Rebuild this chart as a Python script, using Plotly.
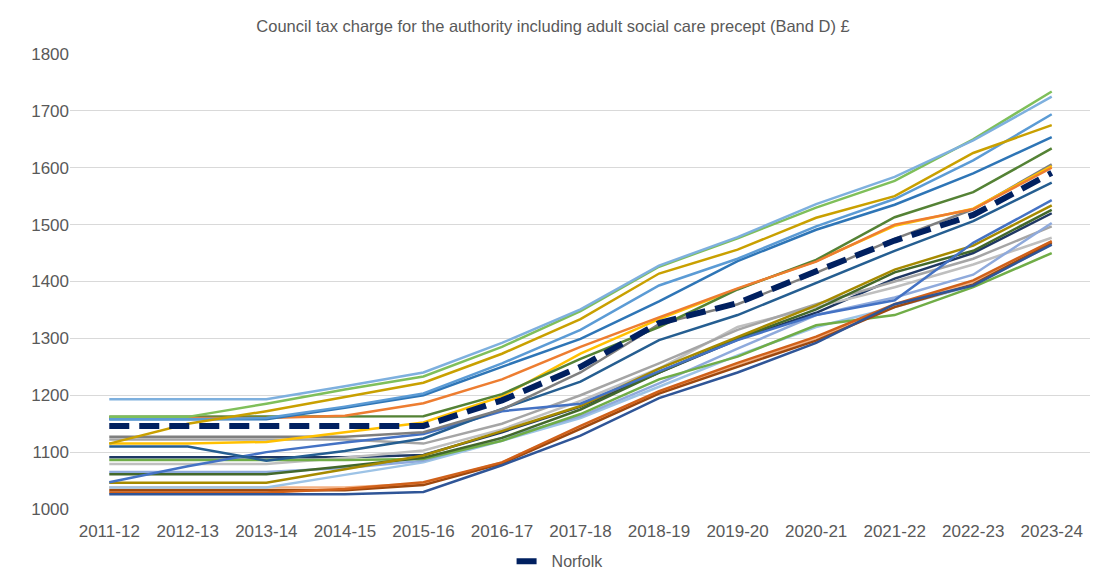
import plotly.graph_objects as go

years = ["2011-12", "2012-13", "2013-14", "2014-15", "2015-16", "2016-17", "2017-18",
         "2018-19", "2019-20", "2020-21", "2021-22", "2022-23", "2023-24"]

# Other authorities (unnamed in the legend)
light_blue_top = [1193, 1193, 1193, 1216, 1240, 1292, 1351, 1428, 1478, 1536, 1584, 1648, 1725]
green_top      = [1162, 1162, 1185, 1210, 1233, 1285, 1348, 1426, 1476, 1530, 1577, 1650, 1734]
gold           = [1115, 1150, 1172, 1197, 1222, 1273, 1334, 1414, 1456, 1512, 1550, 1626, 1675]
blue_a         = [1158, 1158, 1160, 1180, 1203, 1256, 1315, 1393, 1440, 1497, 1545, 1613, 1694]
blue_b         = [1158, 1158, 1158, 1178, 1200, 1250, 1299, 1365, 1436, 1491, 1535, 1590, 1654]
orange         = [1160, 1160, 1160, 1164, 1186, 1228, 1285, 1337, 1388, 1435, 1500, 1527, 1600]
dark_green     = [1162, 1162, 1162, 1162, 1163, 1202, 1264, 1320, 1386, 1438, 1513, 1557, 1634]
yellow         = [1115, 1115, 1118, 1135, 1152, 1198, 1273, 1334, 1387, 1436, 1498, 1528, 1603]
dark_gray      = [1127, 1127, 1127, 1127, 1135, 1175, 1240, 1325, 1360, 1415, 1475, 1527, 1606]
teal           = [1110, 1110, 1085, 1102, 1124, 1176, 1224, 1297, 1341, 1398, 1454, 1506, 1574]
gray           = [1122, 1122, 1122, 1122, 1115, 1150, 1200, 1256, 1315, 1360, 1400, 1440, 1497]
light_gray     = [1079, 1079, 1079, 1090, 1103, 1140, 1190, 1247, 1320, 1355, 1390, 1430, 1477]
olive          = [1046, 1046, 1046, 1070, 1094, 1137, 1181, 1247, 1303, 1358, 1421, 1463, 1534]
dark_green2    = [1061, 1061, 1061, 1075, 1090, 1125, 1175, 1240, 1300, 1351, 1416, 1454, 1526]
blue_rise      = [1047, 1075, 1100, 1117, 1132, 1172, 1185, 1242, 1297, 1341, 1367, 1468, 1543]
light_blue2    = [1065, 1065, 1065, 1072, 1085, 1125, 1163, 1221, 1282, 1341, 1372, 1412, 1503]
light_blue3    = [1038, 1038, 1038, 1060, 1082, 1120, 1160, 1215, 1270, 1320, 1355, 1393, 1465]
green_low      = [1086, 1086, 1086, 1086, 1088, 1120, 1167, 1228, 1268, 1323, 1341, 1390, 1450]
navy_mid       = [1091, 1091, 1091, 1091, 1095, 1135, 1180, 1240, 1298, 1345, 1405, 1450, 1520]
light_orange   = [1038, 1038, 1038, 1038, 1045, 1082, 1144, 1205, 1254, 1300, 1358, 1400, 1470]
orange_dark    = [1029, 1029, 1029, 1035, 1047, 1082, 1146, 1207, 1257, 1303, 1360, 1402, 1471]
brown          = [1033, 1033, 1033, 1033, 1042, 1080, 1141, 1203, 1250, 1296, 1355, 1395, 1468]
navy_blue      = [1026, 1026, 1026, 1026, 1030, 1077, 1129, 1195, 1240, 1292, 1360, 1393, 1465]

norfolk = [1146, 1146, 1146, 1146, 1146, 1191, 1250, 1327, 1362, 1418, 1472, 1517, 1591]

others = [
    (light_orange, "#F4B183"),
    (navy_mid, "#1F3864"),
    (light_gray, "#BFBFBF"),
    (gray, "#A5A5A5"),
    (light_blue3, "#9DC3E6"),
    (light_blue2, "#8FAADC"),
    (green_low, "#70AD47"),
    (dark_green2, "#43682B"),
    (olive, "#A68A00"),
    (blue_rise, "#4472C4"),
    (brown, "#9E480E"),
    (orange_dark, "#D0611A"),
    (navy_blue, "#2F5597"),
    (teal, "#255E91"),
    (dark_gray, "#7F7F7F"),
    (yellow, "#FFC000"),
    (dark_green, "#548235"),
    (orange, "#ED7D31"),
    (blue_b, "#2E75B6"),
    (blue_a, "#5B9BD5"),
    (gold, "#C9A000"),
    (green_top, "#7FBF5A"),
    (light_blue_top, "#7EB0DE"),
]

fig = go.Figure()
for vals, col in others:
    fig.add_trace(go.Scatter(x=years, y=vals, mode="lines", showlegend=False,
                             line=dict(color=col, width=2.5), hoverinfo="skip"))

fig.add_trace(go.Scatter(x=years, y=norfolk, mode="lines", name="Norfolk",
                         line=dict(color="#002060", width=6, dash="20px,10px")))

font_family = "Liberation Sans, Arial, sans-serif"
fig.update_layout(
    width=1090, height=577,
    margin=dict(l=62, r=7, t=46, b=63),
    paper_bgcolor="white", plot_bgcolor="white",
    title=dict(text="Council tax charge for the authority including adult social care precept (Band D) £",
               x=0.5, xanchor="center", y=0.968, yanchor="middle",
               font=dict(family=font_family, size=16.5, color="#595959")),
    xaxis=dict(type="category", range=[-0.5, 12.5], showgrid=False, showline=False,
               ticks="", ticklabelstandoff=10, automargin=False,
               tickfont=dict(family=font_family, size=17, color="#595959")),
    yaxis=dict(range=[1000, 1800], dtick=100, showgrid=True, gridcolor="#D9D9D9",
               gridwidth=1, zeroline=False, showline=False, ticks="", automargin=False,
               tickfont=dict(family=font_family, size=17, color="#595959")),
    legend=dict(orientation="h", x=0.48, xanchor="center", y=-0.115, yanchor="middle",
                font=dict(family=font_family, size=16, color="#595959"),
                bgcolor="rgba(0,0,0,0)"),
)

fig.write_html("out.html")
